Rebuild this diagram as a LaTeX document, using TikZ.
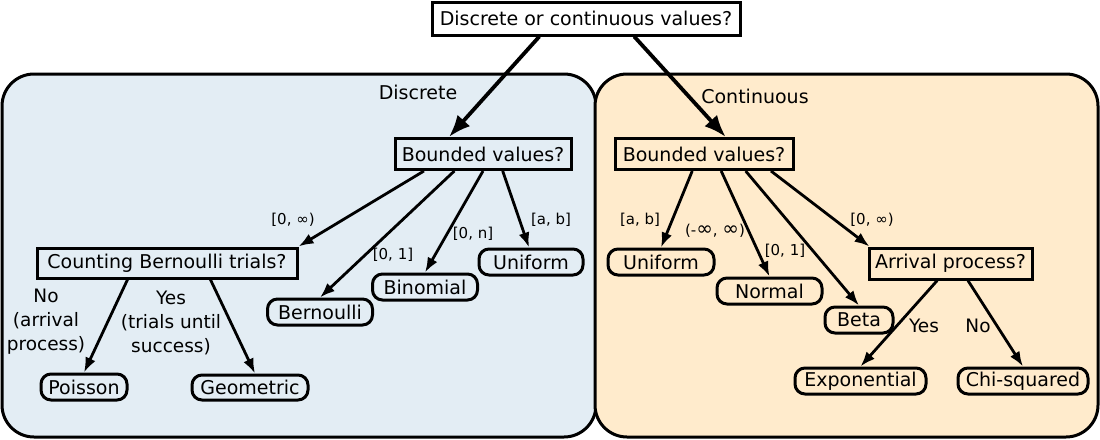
\documentclass[tikz,border=0pt]{standalone}
\usepackage{fontspec}
\setmainfont{DejaVu Sans}
\usetikzlibrary{arrows.meta,calc}
\definecolor{dblue}{HTML}{E3EDF4}
\definecolor{corange}{HTML}{FFEBCC}
\newcommand{\biginf}{{\fontsize{20}{17}\selectfont ∞}}
\tikzset{
  qbox/.style={draw,line width=3pt,inner sep=0pt,font=\fontsize{19}{21}\selectfont},
  leaf/.style={draw,line width=3pt,rounded corners=10pt,inner sep=0pt,font=\fontsize{19}{21}\selectfont},
  cluster/.style={draw,line width=3pt,rounded corners=32pt},
  edge/.style={line width=2.8pt,-{Latex[length=15pt,width=11pt]}},
  bigedge/.style={line width=3.8pt,-{Latex[length=22pt,width=17pt]}},
  elab/.style={font=\fontsize{15}{17}\selectfont,inner sep=0pt},
  mlab/.style={font=\fontsize{18.5}{24}\selectfont,inner sep=0pt,align=center},
  clab/.style={font=\fontsize{19}{21}\selectfont,inner sep=0pt},
}
\begin{document}
\begin{tikzpicture}[x=1pt,y=-1pt]
\useasboundingbox (0,0) rectangle (1100,439);
% clusters
\path[cluster,fill=dblue] (2,74) rectangle (596,437);
\path[cluster,fill=corange] (595,74) rectangle (1098,437);
\node[clab] (ldisc) at (418,92) {Discrete};
\node[clab] (lcont) at (755,96) {Continuous};
% nodes
\node[qbox,fill=white,minimum width=308pt,minimum height=33pt] (top) at (586,18.5) {Discrete or continuous values?};
\node[qbox,fill=dblue,minimum width=176pt,minimum height=31pt] (dbv) at (483,154) {Bounded values?};
\node[qbox,fill=dblue,minimum width=260pt,minimum height=30pt] (cnt) at (167,263) {Counting Bernoulli trials?};
\node[leaf,fill=dblue,minimum width=104pt,minimum height=26pt] (dunif) at (531,262) {Uniform};
\node[leaf,fill=dblue,minimum width=105pt,minimum height=26pt] (binom) at (425,287) {Binomial};
\node[leaf,fill=dblue,minimum width=105pt,minimum height=26pt] (bern) at (320,312) {Bernoulli};
\node[leaf,fill=dblue,minimum width=86pt,minimum height=26pt] (pois) at (84,387) {Poisson};
\node[leaf,fill=dblue,minimum width=116pt,minimum height=25pt] (geom) at (250,387.5) {Geometric};
\node[qbox,fill=corange,minimum width=178pt,minimum height=31pt] (cbv) at (704,154) {Bounded values?};
\node[leaf,fill=corange,minimum width=106pt,minimum height=26pt] (cunif) at (661,262) {Uniform};
\node[leaf,fill=corange,minimum width=105pt,minimum height=26pt] (norm) at (769.5,291) {Normal};
\node[leaf,fill=corange,minimum width=68pt,minimum height=26pt] (beta) at (859,320) {Beta};
\node[qbox,fill=corange,minimum width=163pt,minimum height=31pt] (arr) at (950.5,263.5) {Arrival process?};
\node[leaf,fill=corange,minimum width=131pt,minimum height=26pt] (expo) at (860.5,381) {Exponential};
\node[leaf,fill=corange,minimum width=130pt,minimum height=26pt] (chi) at (1023,381) {Chi-squared};
% edges
\draw[bigedge] ($(top.south west)!0.35!(top.south east)$) -- ($(dbv.north west)!0.31!(dbv.north east)$);
\draw[bigedge] ($(top.south west)!0.655!(top.south east)$) -- ($(cbv.north west)!0.62!(cbv.north east)$);
\draw[edge] ($(dbv.south west)!0.17!(dbv.south east)$) -- (cnt.north east);
\draw[edge] ($(dbv.south west)!0.34!(dbv.south east)$) -- (bern.north);
\draw[edge] ($(dbv.south west)!0.50!(dbv.south east)$) -- (binom.north);
\draw[edge] ($(dbv.south west)!0.61!(dbv.south east)$) -- ($(dunif.north)+(-2,0)$);
\draw[edge] ($(cnt.south west)!0.35!(cnt.south east)$) -- (pois.north);
\draw[edge] ($(cnt.south west)!0.665!(cnt.south east)$) -- ($(geom.north)+(5,0)$);
\draw[edge] ($(cbv.south west)!0.435!(cbv.south east)$) -- (cunif.north);
\draw[edge] ($(cbv.south west)!0.595!(cbv.south east)$) -- (norm.north);
\draw[edge] ($(cbv.south west)!0.73!(cbv.south east)$) -- (beta.north);
\draw[edge] ($(cbv.south west)!0.87!(cbv.south east)$) -- ($(arr.north west)+(2,0)$);
\draw[edge] ($(arr.south west)!0.42!(arr.south east)$) -- (expo.north);
\draw[edge] ($(arr.south west)!0.605!(arr.south east)$) -- (chi.north);
% edge labels
\node[elab] (l1) at (293,220) {[0, ∞)};
\node[elab] (l2) at (393,255) {[0, 1]};
\node[elab] (l3) at (473,234) {[0, n]};
\node[elab] (l4) at (551,220) {[a, b]};
\node[mlab] (l5) at (46,322) {No\\(arrival\\process)};
\node[mlab] (l6) at (171,323) {Yes\\(trials until\\success)};
\node[elab] (l7) at (640,220) {[a, b]};
\node[elab] (l8) at (715,231) {(-\biginf, \biginf)};
\node[elab] (l9) at (785,251) {[0, 1]};
\node[elab] (l10) at (872,220) {[0, ∞)};
\node[mlab] (l11) at (924,326) {Yes};
\node[mlab] (l12) at (978,326) {No};
\end{tikzpicture}
\end{document}
